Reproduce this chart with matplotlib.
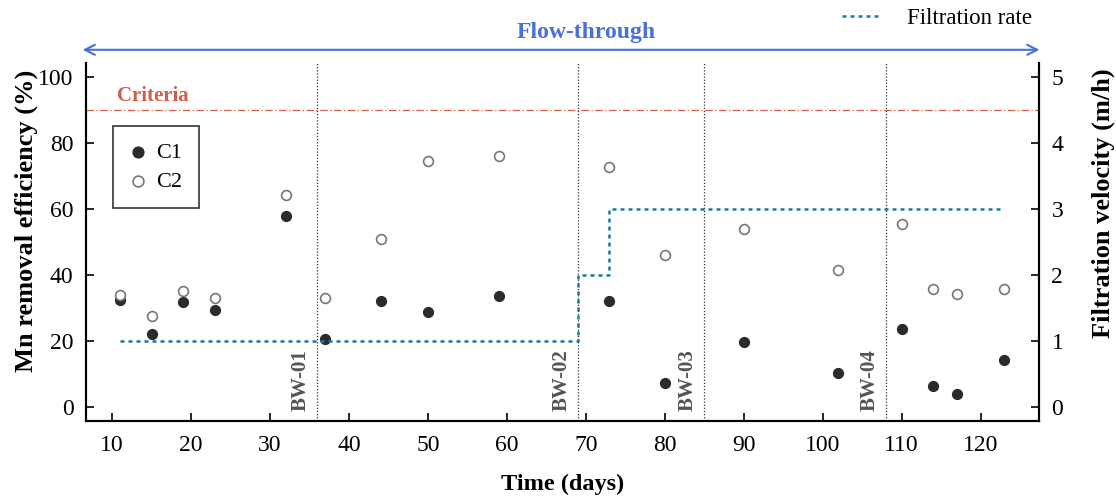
import matplotlib
matplotlib.use("Agg")
import matplotlib.pyplot as plt
import numpy as np

plt.rcParams['font.family'] = ['Liberation Serif', 'DejaVu Serif']

days = [11, 15, 19, 23, 32, 37, 44, 50, 59, 73, 80, 90, 102, 110, 114, 117, 123]
c1 = [32.3, 22.0, 31.8, 29.3, 57.8, 20.7, 32.0, 28.8, 33.6, 32.2, 7.2, 19.8, 10.4, 23.8, 6.3, 3.9, 14.4]
c2 = [33.9, 27.5, 35.3, 32.9, 64.3, 32.9, 51.0, 74.5, 75.9, 72.6, 46.0, 54.0, 41.5, 55.5, 35.8, 34.3, 35.8]

rate_days = [11, 69, 69, 73, 73, 123]
rate_vals = [1, 1, 2, 2, 3, 3]

bw_days = [36, 69, 85, 108]
bw_labels = ["BW-01", "BW-02", "BW-03", "BW-04"]
criteria = 90

fig = plt.figure(figsize=(11.16, 4.98), dpi=100)
ax = fig.add_axes([0.0771, 0.1546, 0.8539, 0.7189])
ax2 = ax.twinx()

ax.set_xlim(6.7, 127.4)
ax.set_ylim(-4.2, 104.2)
ax2.set_ylim(-4.2 / 20, 104.2 / 20)

ax.axhline(criteria, color='#d0604a', lw=0.9, ls=(0, (6, 2, 1, 2)))
ax.text(10.6, 92.7, "Criteria", color='#d0604a', fontsize=15, fontweight='bold', va='baseline')

for d, lab in zip(bw_days, bw_labels):
    ax.axvline(d, color='#333333', lw=0.9, ls=(0, (1, 1.5)))
    ax.text(d - 0.8, -1.2, lab, rotation=90, ha='right', va='bottom', fontsize=15,
            fontweight='bold', color='#555555')

ax2.plot(rate_days, rate_vals, color='#1a7a99', lw=1.8, ls=(0, (1.6, 1.6)), label='Filtration rate')

h1 = ax.scatter(days, c1, s=50, color='#2b2b2b', zorder=5, label='C1')
h2 = ax.scatter(days, c2, s=50, facecolor='white', edgecolor='#777777', linewidth=1.2, zorder=5, label='C2')

ax.set_xticks([10, 20, 30, 40, 50, 60, 70, 80, 90, 100, 110, 120])
ax.set_yticks([0, 20, 40, 60, 80, 100])
ax2.set_yticks([0, 1, 2, 3, 4, 5])
for a in (ax, ax2):
    a.tick_params(direction='in', length=6, width=1.2, labelsize=17)
    a.spines['top'].set_visible(False)
    for s in a.spines.values():
        s.set_linewidth(1.5)
ax.tick_params(axis='x', pad=10)
ax.tick_params(axis='y', pad=9)
ax2.tick_params(axis='y', pad=9)

ax.set_xlabel("Time (days)", fontsize=17.5, fontweight='bold', labelpad=13)
ax.set_ylabel("Mn removal efficiency (%)", fontsize=19, fontweight='bold', labelpad=0)
ax2.set_ylabel("Filtration velocity (m/h)", fontsize=19, fontweight='bold', labelpad=20)
ax.yaxis.label.set_y(0.559)
ax2.yaxis.label.set_y(0.609)

leg = ax.legend(handles=[h1, h2], loc='upper left', bbox_to_anchor=(0.028, 0.824), fontsize=16,
                frameon=True, fancybox=False, edgecolor='black', handletextpad=0.4,
                borderpad=0.75, handlelength=0.8, labelspacing=0.35, borderaxespad=0,
                markerscale=1.1)
leg.get_frame().set_linewidth(1.2)

leg2 = fig.legend(handles=ax2.get_lines(), loc='center left', bbox_to_anchor=(0.7545, 0.962),
                  fontsize=16.5, frameon=False, handlelength=1.75, handletextpad=1.1,
                  borderaxespad=0, borderpad=0)

fig.add_artist(matplotlib.patches.FancyArrowPatch(
    (0.0715, 0.9), (0.934, 0.9), transform=fig.transFigure, arrowstyle='<->',
    mutation_scale=18, color='#4a6fd6', lw=1.5))
fig.text(0.525, 0.935, "Flow-through", ha='center', va='center', fontsize=17,
         fontweight='bold', color='#4a6fd6')

fig.savefig("out.png", dpi=100)
